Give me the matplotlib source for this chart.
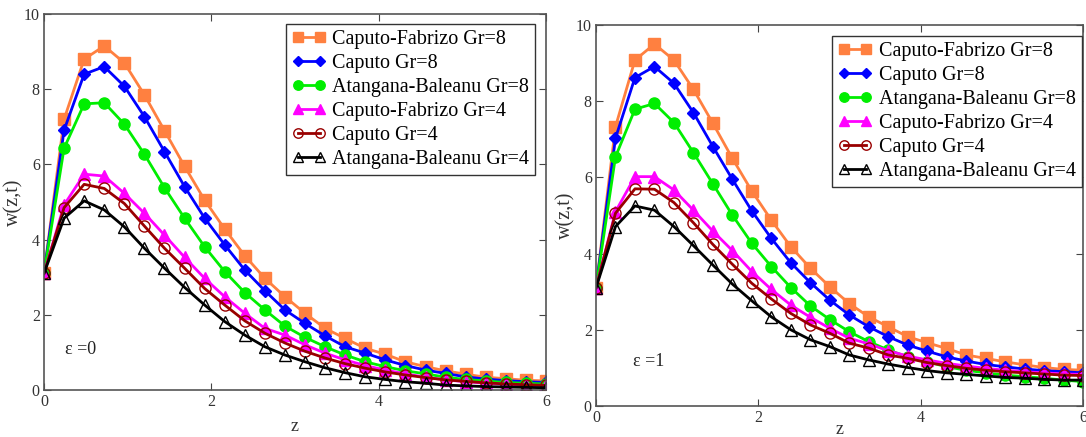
import matplotlib
matplotlib.use('Agg')
import matplotlib.pyplot as plt

plt.rcParams['font.family'] = ['Liberation Serif', 'DejaVu Serif']

z = [0, 0.24, 0.48, 0.72, 0.96, 1.2, 1.44, 1.68, 1.92, 2.16, 2.4, 2.64, 2.88,
     3.12, 3.36, 3.6, 3.84, 4.08, 4.32, 4.56, 4.8, 5.04, 5.28, 5.52, 5.76, 6.0]

labels = ['Caputo-Fabrizo Gr=8', 'Caputo Gr=8', 'Atangana-Baleanu Gr=8',
          'Caputo-Fabrizo Gr=4', 'Caputo Gr=4', 'Atangana-Baleanu Gr=4']

# eps = 0
cf8_e0 = [3.1, 7.2, 8.8, 9.15, 8.7, 7.85, 6.9, 5.95, 5.05, 4.28, 3.57, 2.97, 2.48,
          2.04, 1.64, 1.37, 1.11, 0.95, 0.75, 0.62, 0.51, 0.42, 0.34, 0.3, 0.26, 0.24]
c8_e0 = [3.1, 6.91, 8.4, 8.6, 8.08, 7.27, 6.34, 5.41, 4.57, 3.86, 3.19, 2.64, 2.13,
         1.77, 1.44, 1.15, 0.98, 0.8, 0.65, 0.53, 0.44, 0.35, 0.29, 0.25, 0.22, 0.2]
ab8_e0 = [3.1, 6.43, 7.61, 7.64, 7.07, 6.27, 5.38, 4.57, 3.81, 3.15, 2.59, 2.13, 1.7,
          1.4, 1.15, 0.93, 0.75, 0.62, 0.51, 0.43, 0.34, 0.28, 0.24, 0.2, 0.18, 0.16]
cf4_e0 = [3.1, 4.92, 5.74, 5.69, 5.23, 4.7, 4.12, 3.53, 2.97, 2.48, 2.04, 1.64, 1.46,
          1.2, 0.98, 0.8, 0.65, 0.53, 0.43, 0.34, 0.27, 0.22, 0.18, 0.15, 0.13, 0.12]
c4_e0 = [3.1, 4.85, 5.47, 5.36, 4.96, 4.36, 3.77, 3.24, 2.7, 2.26, 1.84, 1.51, 1.25,
         1.03, 0.85, 0.7, 0.58, 0.48, 0.4, 0.33, 0.27, 0.23, 0.19, 0.16, 0.14, 0.12]
ab4_e0 = [3.1, 4.57, 5.03, 4.79, 4.34, 3.77, 3.24, 2.73, 2.26, 1.82, 1.46, 1.15, 0.93,
          0.75, 0.59, 0.46, 0.35, 0.28, 0.22, 0.18, 0.13, 0.11, 0.09, 0.08, 0.07, 0.06]

# eps = 1
cf8_e1 = [3.1, 7.33, 9.08, 9.5, 9.08, 8.31, 7.42, 6.5, 5.64, 4.88, 4.18, 3.62, 3.13,
          2.69, 2.34, 2.08, 1.82, 1.66, 1.51, 1.34, 1.25, 1.16, 1.08, 1.01, 0.96, 0.94]
c8_e1 = [3.1, 7.03, 8.62, 8.91, 8.47, 7.7, 6.81, 5.95, 5.12, 4.4, 3.76, 3.24, 2.78,
         2.39, 2.08, 1.82, 1.6, 1.44, 1.29, 1.18, 1.09, 1.03, 0.97, 0.93, 0.9, 0.87]
ab8_e1 = [3.1, 6.54, 7.79, 7.94, 7.44, 6.65, 5.83, 5.01, 4.27, 3.66, 3.11, 2.63, 2.27,
          1.95, 1.69, 1.47, 1.29, 1.16, 1.03, 0.94, 0.87, 0.81, 0.77, 0.73, 0.68, 0.64]
cf4_e1 = [3.1, 5.1, 6.02, 6.02, 5.67, 5.14, 4.59, 4.08, 3.53, 3.06, 2.65, 2.33, 2.04,
          1.78, 1.63, 1.45, 1.31, 1.21, 1.12, 1.05, 0.99, 0.94, 0.9, 0.87, 0.84, 0.83]
c4_e1 = [3.1, 5.06, 5.7, 5.69, 5.34, 4.81, 4.24, 3.72, 3.22, 2.81, 2.43, 2.13, 1.91,
         1.65, 1.52, 1.34, 1.25, 1.14, 1.06, 0.99, 0.94, 0.9, 0.87, 0.84, 0.81, 0.8]
ab4_e1 = [3.1, 4.71, 5.25, 5.14, 4.71, 4.21, 3.7, 3.2, 2.76, 2.34, 2.0, 1.74, 1.56,
          1.34, 1.21, 1.1, 1.01, 0.93, 0.87, 0.83, 0.79, 0.75, 0.73, 0.7, 0.68, 0.68]

colors = ['#ff8040', '#0000ff', '#00ee00', '#ff00ff', '#990000', '#000000']
markers = ['s', 'D', 'o', '^', 'o', '^']
msizes = [9, 6, 8, 8, 8, 8]
faces = ['#ff8040', '#0000ff', '#00ee00', '#ff00ff', 'none', 'none']

fig = plt.figure(figsize=(10.86, 4.37), dpi=100)
ax1 = fig.add_axes([44/1086, 47/437, 502/1086, 376/437])
ax2 = fig.add_axes([596/1086, 31/437, 487/1086, 381/437])


def draw(ax, series, eps, epspos, legpos, xly):
    for i, y in enumerate(series):
        ax.plot(z, y, color=colors[i], lw=2, marker=markers[i], ms=msizes[i],
                mfc=faces[i], mec=colors[i], mew=1, label=labels[i])
    ax.set_xlim(0, 6)
    ax.set_ylim(0, 10)
    ax.set_xticks([0, 2, 4, 6])
    ax.set_yticks([0, 2, 4, 6, 8, 10])
    ax.tick_params(direction='in', top=True, right=True, labelsize=11.5,
                   length=5, color='#444444', pad=3, labelcolor='#333333')
    for s in ax.spines.values():
        s.set_color('#555555')
        s.set_linewidth(1.2)
    ax.set_ylabel('w(z,t)', fontsize=14.5, labelpad=0, color='#333333')
    ax.set_xlabel('z', fontsize=13, color='#333333')
    ax.xaxis.set_label_coords(0.5, xly)
    ax.text(epspos[0], epspos[1], '\u03b5 =' + eps, fontsize=13, color='#222222')
    leg = ax.legend(loc='upper left', bbox_to_anchor=legpos, fontsize=14.5,
                    handlelength=1.7, handletextpad=0.3, labelspacing=0.24,
                    borderpad=0.3, fancybox=False, framealpha=1, numpoints=2,
                    markerscale=0.85, edgecolor='#333333', borderaxespad=0)
    leg.get_frame().set_linewidth(1.0)


draw(ax1, [cf8_e0, c8_e0, ab8_e0, cf4_e0, c4_e0, ab4_e0], '0', (0.25, 0.95),
     (0.482, 0.973), -0.075)
draw(ax2, [cf8_e1, c8_e1, ab8_e1, cf4_e1, c4_e1, ab4_e1], '1', (0.45, 1.05),
     (0.485, 0.971), -0.04)

fig.savefig('out.png', dpi=100)
